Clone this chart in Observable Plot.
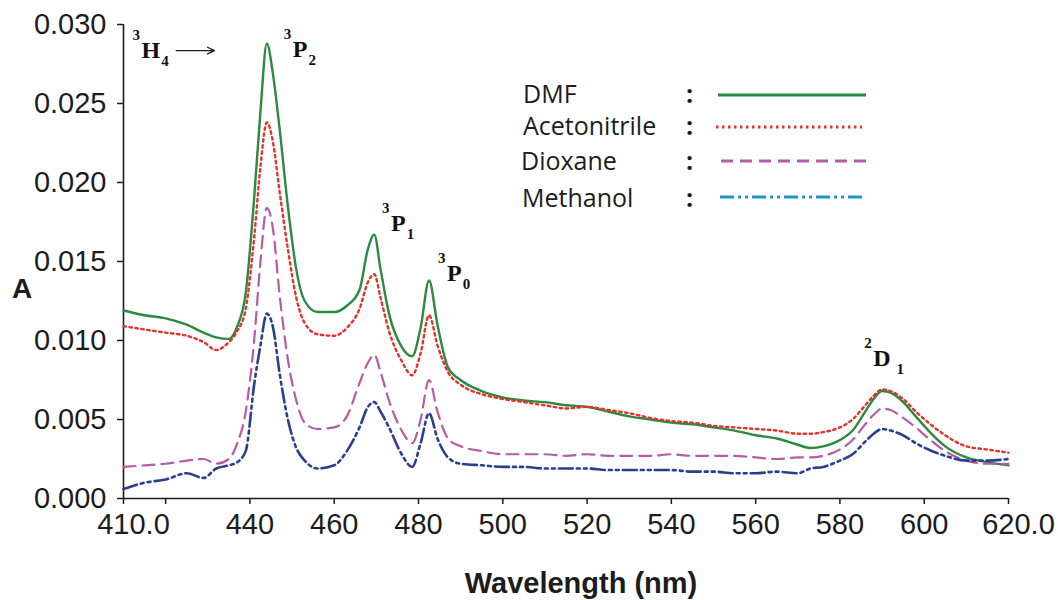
<!DOCTYPE html>
<html><head><meta charset="utf-8">
<script src="https://cdn.jsdelivr.net/npm/d3@7"></script>
<script src="https://cdn.jsdelivr.net/npm/@observablehq/plot@0.6"></script>
<style>body{margin:0;background:#fff}#chart{width:1058px;height:600px}</style>
</head><body><div id="chart"></div>
<script>
// ---- data ----
const wavelengths = [410,415,420,425,429,432,435,437,439,441,442.5,444,445.5,447,449,451,453,456,460,463,466,468,469.5,471,473,476,478.5,480.5,482.5,484.5,487,490,495,500,505,510,515,520,525,530,535,540,545,550,555,560,565,570,573,576,580,583,586,588,590,592,595,598,601,605,610,615,620];
const dmf = [0.0119,0.0116,0.0114,0.0110,0.0105,0.0102,0.0101,0.0109,0.0130,0.0190,
  0.0245,0.0288,0.0268,0.0235,0.0185,0.0145,0.0125,0.0118,0.0118,0.0122,
  0.0132,0.0158,0.0167,0.0145,0.0117,0.0096,0.0090,0.0108,0.0138,0.0110,
  0.0083,0.0075,0.0068,0.0064,0.0062,0.0061,0.0059,0.0058,0.0055,0.0052,
  0.0050,0.0048,0.0047,0.0045,0.0043,0.0040,0.0038,0.0034,0.0032,0.0033,
  0.0037,0.0043,0.0055,0.0063,0.0068,0.0067,0.0061,0.0052,0.0043,0.0033,
  0.0026,0.0023,0.0021];
const acetonitrile = [0.0109,0.0107,0.0105,0.0103,0.0099,0.0094,0.0099,0.0106,0.0120,0.0165,
  0.0210,0.0238,0.0225,0.0195,0.0158,0.0127,0.0111,0.0104,0.0103,0.0108,
  0.0120,0.0137,0.0142,0.0127,0.0106,0.0087,0.0078,0.0092,0.0116,0.0097,
  0.0080,0.0072,0.0066,0.0063,0.0061,0.0059,0.0057,0.0058,0.0056,0.0054,
  0.0051,0.0049,0.0048,0.0046,0.0045,0.0044,0.0043,0.0041,0.0041,0.0042,
  0.0045,0.0050,0.0059,0.0065,0.0069,0.0068,0.0063,0.0055,0.0048,0.0040,
  0.0033,0.0031,0.0029];
const dioxane = [0.0020,0.0021,0.0022,0.0024,0.0025,0.0022,0.0025,0.0035,0.0055,0.0100,
  0.0150,0.0184,0.0170,0.0130,0.0088,0.0062,0.0048,0.0044,0.0045,0.0052,
  0.0073,0.0086,0.0091,0.0080,0.0062,0.0043,0.0035,0.0050,0.0075,0.0055,
  0.0038,0.0033,0.0030,0.0028,0.0028,0.0028,0.0027,0.0028,0.0027,0.0027,
  0.0027,0.0028,0.0027,0.0027,0.0027,0.0026,0.0025,0.0026,0.0026,0.0027,
  0.0031,0.0037,0.0047,0.0053,0.0057,0.0056,0.0051,0.0045,0.0038,0.0030,
  0.0024,0.0022,0.0022];
const methanol = [0.0006,0.0010,0.0012,0.0016,0.0013,0.0019,0.0021,0.0023,0.0030,0.0072,
  0.0097,0.0117,0.0108,0.0080,0.0050,0.0032,0.0024,0.0019,0.0021,0.0030,
  0.0045,0.0058,0.0061,0.0055,0.0045,0.0028,0.0020,0.0035,0.0054,0.0038,
  0.0026,0.0022,0.0021,0.0020,0.0020,0.0019,0.0019,0.0019,0.0018,0.0018,
  0.0018,0.0018,0.0017,0.0017,0.0016,0.0016,0.0017,0.0016,0.0019,0.0020,
  0.0024,0.0028,0.0036,0.0041,0.0044,0.0043,0.0040,0.0035,0.0031,0.0027,
  0.0024,0.0024,0.0025];
const seriesNames = ["DMF","Acetonitrile","Dioxane","Methanol"];
const xTicks = [410,420,440,460,480,500,520,540,560,580,600,620];
const yTicks = [0,0.005,0.010,0.015,0.020,0.025,0.030];
const annotations = [
  {sup:"3", main:"H", sub:"4", x:414.4, y:0.02785},
  {sup:"3", main:"P", sub:"2", x:450.3, y:0.02790},
  {sup:"3", main:"P", sub:"1", x:473.6, y:0.01690},
  {sup:"3", main:"P", sub:"0", x:486.9, y:0.01375},
  {sup:"2", main:"D", sub:"1", x:588.0, y:0.00835}
];
const arrowSpec = [{x1:422.5, x2:431.6, y:0.02835}];

// ---- styles ----
const lineStyle = {
  DMF:{stroke:"#2b8a3e", width:2.4, dash:null, legendStroke:"#2b8a3e"},
  Acetonitrile:{stroke:"#e2332c", width:2.4, dash:"2.5,3.5", legendStroke:"#e2332c"},
  Dioxane:{stroke:"#b65ba6", width:2.2, dash:"12,7", legendStroke:"#b65ba6"},
  Methanol:{stroke:"#2c3f8e", width:2.6, dash:"14,4,3,4,3,4", legendStroke:"#1a96d8"}
};
const valuesBySeries = {DMF:dmf, Acetonitrile:acetonitrile, Dioxane:dioxane, Methanol:methanol};
const rows = seriesNames.flatMap(name => wavelengths.map((w,i)=>({series:name, wl:w, a:valuesBySeries[name][i]})));

const ink = "#1c1c1c";
const plot = Plot.plot({
  width:1058, height:600,
  marginLeft:123, marginRight:50, marginTop:24, marginBottom:102,
  style:{fontFamily:"'Liberation Sans', Arial, sans-serif", fontSize:"29px", color:ink, background:"#fff", overflow:"visible"},
  x:{domain:[410,620]},
  y:{domain:[0,0.03]},
  marks:[
    Plot.axisY({ticks:yTicks, tickFormat:".3f", tickSize:6, tickPadding:11, label:null, fontSize:29, strokeWidth:1.5}),
    Plot.axisX({ticks:xTicks, tickFormat:()=>"", tickSize:6, label:null, strokeWidth:1.5}),
    Plot.axisX({ticks:xTicks.slice(2,-1), tickSize:0, tickPadding:15, label:null, fontSize:29}),
    Plot.axisX({ticks:[410,620], tickFormat:".1f", tickSize:0, tickPadding:15, dx:10, label:null, fontSize:29}),
    Plot.ruleX([410], {stroke:ink, strokeWidth:1.6}),
    Plot.ruleY([0], {stroke:ink, strokeWidth:1.6}),
    ...seriesNames.map(name => Plot.line(rows.filter(r=>r.series===name), {
      x:"wl", y:"a", stroke:lineStyle[name].stroke, strokeWidth:lineStyle[name].width,
      strokeDasharray:lineStyle[name].dash, curve:"monotone-x"
    })),
    Plot.arrow(arrowSpec, {x1:"x1", x2:"x2", y1:"y", y2:"y", stroke:ink, strokeWidth:1.3, headLength:9, headAngle:50})
  ]
});
document.getElementById("chart").appendChild(plot);

const svg = d3.select(plot);
const sx = plot.scale("x"), sy = plot.scale("y");

// annotations
annotations.forEach(a => {
  const X = sx.apply(a.x), Y = sy.apply(a.y);
  const t = svg.append("text").attr("text-anchor","start")
    .attr("font-family","'Liberation Serif','DejaVu Serif',serif")
    .attr("font-weight","bold").attr("fill","#111");
  t.append("tspan").attr("x", X-9).attr("y", Y-18).attr("font-size",15).text(a.sup);
  t.append("tspan").attr("x", X).attr("y", Y).attr("font-size",24).text(a.main);
  t.append("tspan").attr("dx", a.main==="D"?6:1).attr("dy", 8).attr("font-size",15).text(a.sub);
});

// y label
svg.append("text").attr("x",12).attr("y",298).attr("text-anchor","start")
  .attr("font-family","'Liberation Sans', Arial, sans-serif").attr("font-weight","bold")
  .attr("font-size",28).attr("fill",ink).text("A");
// x label
svg.append("text").attr("x",581).attr("y",593).attr("text-anchor","middle")
  .attr("font-family","'Liberation Sans', Arial, sans-serif").attr("font-weight","bold")
  .attr("font-size",29).attr("fill",ink).text("Wavelength (nm)");

// legend
const legendRows = [
  {name:"DMF", tx:523, ty:103, ly:95, lx1:718, lx2:866},
  {name:"Acetonitrile", tx:523, ty:135, ly:127, lx1:716, lx2:862},
  {name:"Dioxane", tx:521, ty:170, ly:161, lx1:721, lx2:866},
  {name:"Methanol", tx:522, ty:207, ly:197, lx1:720, lx2:866}
];
legendRows.forEach(r => {
  svg.append("text").attr("x", r.tx).attr("y", r.ty).attr("text-anchor","start")
    .attr("font-family","'Open Sans', 'Noto Sans', sans-serif").attr("font-size",25)
    .attr("fill",ink).text(r.name);
  svg.append("text").attr("x", 686).attr("y", r.ty).attr("text-anchor","start")
    .attr("font-family","'Open Sans', 'Noto Sans', sans-serif").attr("font-size",25).attr("font-weight","bold")
    .attr("fill",ink).text(":");
  const s = lineStyle[r.name];
  svg.append("line").attr("x1", r.lx1).attr("x2", r.lx2).attr("y1", r.ly).attr("y2", r.ly)
    .attr("stroke", s.legendStroke).attr("stroke-width", 3)
    .attr("stroke-dasharray", s.dash);
});
</script>
</body></html>
